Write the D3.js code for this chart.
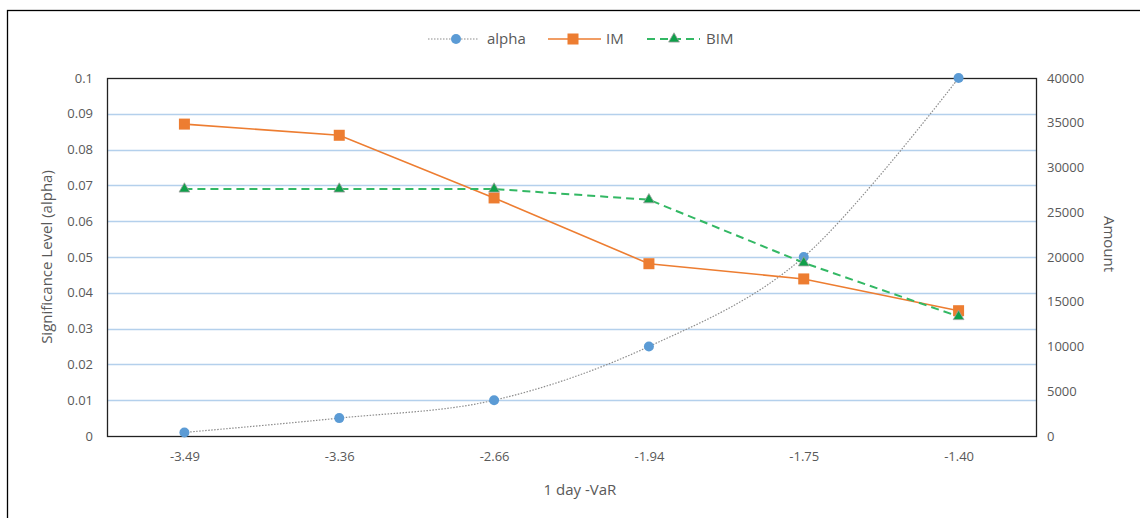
<!DOCTYPE html>
<html>
<head>
<meta charset="utf-8">
<script src="https://cdn.jsdelivr.net/npm/d3@7"></script>
<style>
  body { margin: 0; background: #fff; }
  text { font-family: "Open Sans", sans-serif; fill: #595959; }
</style>
</head>
<body>
<div id="chart"></div>
<script>
// data
const categories = ["-3.49", "-3.36", "-2.66", "-1.94", "-1.75", "-1.40"];
const alpha = [0.001, 0.005, 0.01, 0.025, 0.05, 0.1];
const im = [34850, 33600, 26600, 19250, 17550, 14000];
const bim = [27600, 27600, 27600, 26400, 19350, 13350];
const leftTicks = [0, 0.01, 0.02, 0.03, 0.04, 0.05, 0.06, 0.07, 0.08, 0.09, 0.1];
const rightTicks = [0, 5000, 10000, 15000, 20000, 25000, 30000, 35000, 40000];

const width = 1140, height = 518;
const plot = { left: 107, top: 78, right: 1036, bottom: 436 };

const svg = d3.select("#chart").append("svg")
  .attr("width", width).attr("height", height);

// outer chart frame
svg.append("rect")
  .attr("x", 7.5).attr("y", 10.5)
  .attr("width", 1140).attr("height", 520)
  .attr("fill", "none").attr("stroke", "#000").attr("stroke-width", 1.3);

const x = d3.scalePoint().domain(categories)
  .range([plot.left, plot.right]).padding(0.5);
const yL = d3.scaleLinear().domain([0, 0.1]).range([plot.bottom, plot.top]);
const yR = d3.scaleLinear().domain([0, 40000]).range([plot.bottom, plot.top]);

// gridlines
svg.append("g").selectAll("line")
  .data(leftTicks.slice(1, -1))
  .join("line")
  .attr("x1", plot.left).attr("x2", plot.right)
  .attr("y1", d => Math.round(yL(d)) + 0.5).attr("y2", d => Math.round(yL(d)) + 0.5)
  .attr("stroke", "#b4d0ec").attr("stroke-width", 1.4);

// plot border
svg.append("rect")
  .attr("x", plot.left + 0.5).attr("y", plot.top + 0.5)
  .attr("width", plot.right - plot.left).attr("height", plot.bottom - plot.top)
  .attr("fill", "none").attr("stroke", "#222").attr("stroke-width", 1.3);

// axes
const leftAxis = svg.append("g")
  .attr("transform", `translate(${plot.left},0)`)
  .call(d3.axisLeft(yL).tickValues(leftTicks).tickSize(0).tickPadding(14)
    .tickFormat(d => d === 0 ? "0" : d3.format("~g")(+d.toFixed(2))));
leftAxis.select(".domain").remove();

const rightAxis = svg.append("g")
  .attr("transform", `translate(${plot.right},0)`)
  .call(d3.axisRight(yR).tickValues(rightTicks).tickSize(0).tickPadding(11)
    .tickFormat(d3.format("d")));
rightAxis.select(".domain").remove();

const bottomAxis = svg.append("g")
  .attr("transform", `translate(0,${plot.bottom})`)
  .call(d3.axisBottom(x).tickSize(0).tickPadding(16));
bottomAxis.select(".domain").remove();

svg.selectAll(".tick text")
  .attr("font-size", 13).attr("fill", "#595959")
  .attr("font-family", "'Open Sans', sans-serif");

// axis titles
svg.append("text")
  .attr("transform", `translate(52,${(plot.top + plot.bottom) / 2}) rotate(-90)`)
  .attr("text-anchor", "middle").attr("font-size", 15)
  .text("Significance Level (alpha)");
svg.append("text")
  .attr("transform", `translate(1104,${(plot.top + plot.bottom) / 2 - 13}) rotate(90)`)
  .attr("text-anchor", "middle").attr("font-size", 15)
  .text("Amount");
svg.append("text")
  .attr("x", 580).attr("y", 495)
  .attr("text-anchor", "middle").attr("font-size", 15)
  .text("1 day -VaR");

// alpha is smoothed, IM and BIM are straight segments
svg.append("path")
  .datum(alpha)
  .attr("fill", "none").attr("stroke", "#8c8c8c").attr("stroke-width", 1.2)
  .attr("stroke-dasharray", "1.5,1.5")
  .attr("d", d3.line().x((d, i) => x(categories[i])).y(d => yL(d))
    .curve(d3.curveCardinal.tension(0)));

svg.append("path")
  .datum(im)
  .attr("fill", "none").attr("stroke", "#ED7D31").attr("stroke-width", 1.6)
  .attr("d", d3.line().x((d, i) => x(categories[i])).y(d => yR(d)));

svg.append("path")
  .datum(bim)
  .attr("fill", "none").attr("stroke", "#33b864").attr("stroke-width", 2)
  .attr("stroke-dasharray", "8,5")
  .attr("d", d3.line().x((d, i) => x(categories[i])).y(d => yR(d)));

// markers
svg.append("g").selectAll("circle")
  .data(alpha).join("circle")
  .attr("cx", (d, i) => x(categories[i])).attr("cy", d => yL(d))
  .attr("r", 5).attr("fill", "#5B9BD5");

svg.append("g").selectAll("rect")
  .data(im).join("rect")
  .attr("x", (d, i) => x(categories[i]) - 5.5).attr("y", d => yR(d) - 5.5)
  .attr("width", 11).attr("height", 11).attr("fill", "#ED7D31");

const tri = d3.symbol().type(d3.symbolTriangle).size(50);
svg.append("g").selectAll("path")
  .data(bim).join("path")
  .attr("transform", (d, i) => `translate(${x(categories[i])},${yR(d)})`)
  .attr("d", tri).attr("fill", "#0fa04a")
  .attr("stroke", "#a0a0a0").attr("stroke-width", 0.8);

// legend
const legend = svg.append("g").attr("transform", "translate(0,39)");
legend.append("line").attr("x1", 428).attr("x2", 479).attr("y1", 0).attr("y2", 0)
  .attr("stroke", "#8c8c8c").attr("stroke-width", 1.2).attr("stroke-dasharray", "1.5,1.5");
legend.append("circle").attr("cx", 456).attr("cy", 0).attr("r", 5).attr("fill", "#5B9BD5");
legend.append("text").attr("x", 487).attr("y", 5).attr("font-size", 15).text("alpha");

legend.append("line").attr("x1", 548).attr("x2", 601).attr("y1", 0).attr("y2", 0)
  .attr("stroke", "#ED7D31").attr("stroke-width", 1.6);
legend.append("rect").attr("x", 567.5).attr("y", -5.5).attr("width", 11).attr("height", 11)
  .attr("fill", "#ED7D31");
legend.append("text").attr("x", 606).attr("y", 5).attr("font-size", 15).text("IM");

legend.append("line").attr("x1", 647).attr("x2", 700).attr("y1", 0).attr("y2", 0)
  .attr("stroke", "#33b864").attr("stroke-width", 2).attr("stroke-dasharray", "8,5");
legend.append("path").attr("transform", "translate(674,0)").attr("d", tri)
  .attr("fill", "#0fa04a").attr("stroke", "#a0a0a0").attr("stroke-width", 0.8);
legend.append("text").attr("x", 706).attr("y", 5).attr("font-size", 15).text("BIM");
</script>
</body>
</html>
